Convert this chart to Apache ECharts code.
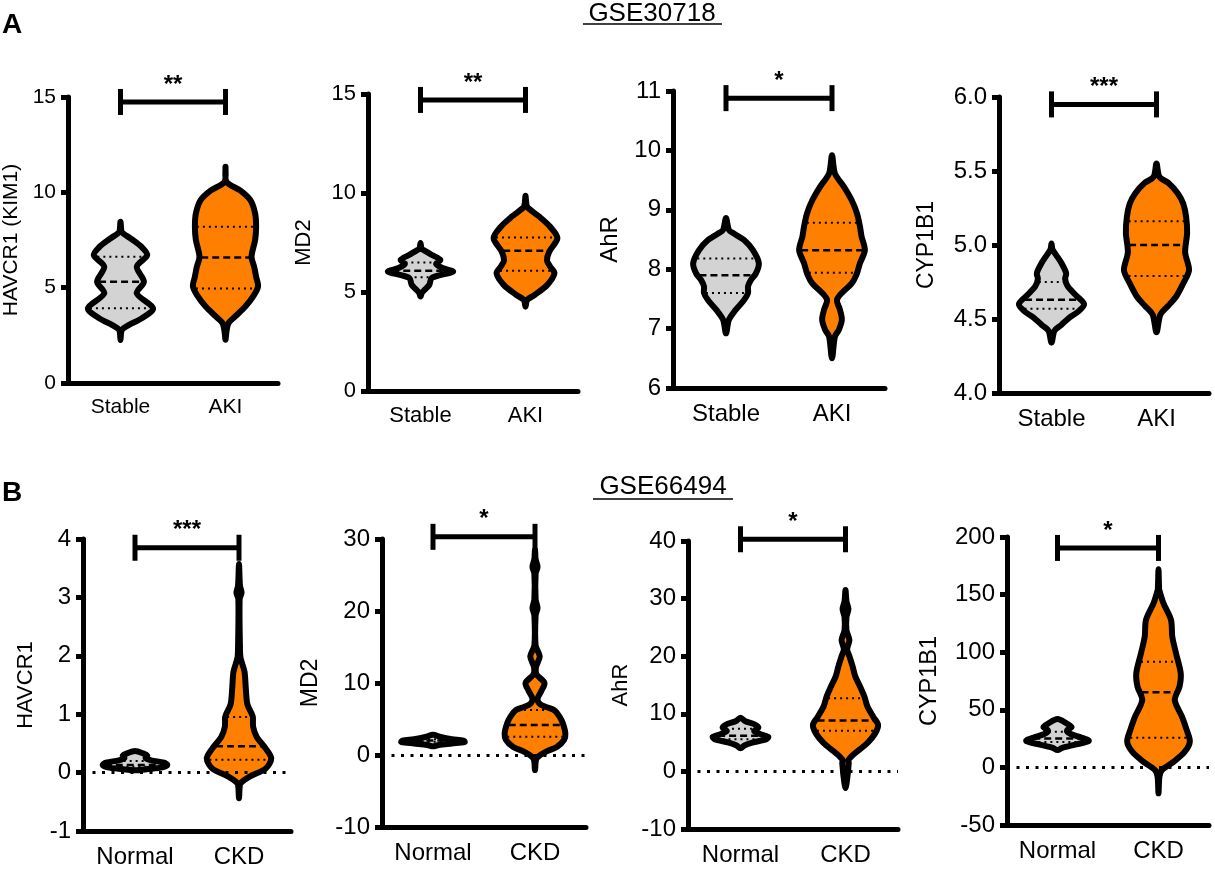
<!DOCTYPE html>
<html><head><meta charset="utf-8">
<script src="https://cdn.jsdelivr.net/npm/echarts@6/dist/echarts.min.js"></script>
<style>html,body{margin:0;padding:0;background:#fff}#c{width:1215px;height:869px}</style>
</head><body><div id="c"></div><script>
// ---------- DATA ----------
const groupA = ['Stable', 'AKI'];
const groupB = ['Normal', 'CKD'];
const datasetTitles = ['GSE30718', 'GSE66494'];
const panelLetters = ['A', 'B'];
const yNames = ['HAVCR1 (KIM1)', 'MD2', 'AhR', 'CYP1B1', 'HAVCR1', 'MD2', 'AhR', 'CYP1B1'];
const yMin = [0, 0, 6, 4, -1, -10, -10, -50];
const yMax = [15, 15, 11, 6, 4, 30, 40, 200];
const yStep = [5, 5, 1, 0.5, 1, 10, 10, 50];
const yDecimals = [0, 0, 0, 1, 0, 0, 0, 0];
const stars = ['**', '**', '*', '***', '***', '*', '*', '*'];
const bracketY = [14.74, 14.7, 10.88, 5.95, 3.85, 30.3, 40.3, 190.5];

// violin profiles: [value, relative density (half width, max = 1)]
const havcr1A_stable = [[8.46,0],[7.95,0.03],[7.85,0.08],[7.5,0.38],[7.15,0.64],[6.71,0.82],[6.1,0.5],[5.31,0.72],[4.7,0.5],[3.92,1.0],[3.39,0.65],[3.04,0.25],[2.78,0.04],[2.25,0]];
const havcr1A_aki = [[11.34,0],[10.55,0.03],[10.1,0.45],[9.6,0.76],[8.9,0.91],[8.2,0.94],[7.5,0.91],[6.63,0.8],[6.1,0.88],[5.58,0.94],[5.06,1],[4.54,0.85],[4.01,0.61],[3.49,0.3],[3.14,0.09],[2.7,0.03],[2.27,0]];
const md2A_stable = [[7.47,0],[7.2,0.03],[7.13,0.08],[6.88,0.34],[6.62,0.61],[6.42,0.48],[6.2,0.7],[6.03,1],[5.85,0.6],[5.7,0.34],[5.36,0.27],[5.1,0.12],[4.95,0.04],[4.77,0]];
const md2A_aki = [[9.86,0],[9.4,0.03],[9.24,0.08],[8.81,0.42],[8.31,0.75],[7.72,0.98],[7.04,0.73],[6.6,0.66],[6.3,0.75],[5.95,0.89],[5.36,0.67],[4.85,0.28],[4.6,0.05],[4.26,0]];
const ahrA_stable = [[8.86,0],[8.66,0.09],[8.6,0.24],[8.49,0.55],[8.32,0.82],[8.1,1],[7.93,0.91],[7.82,0.76],[7.71,0.67],[7.6,0.67],[7.48,0.55],[7.32,0.3],[7.15,0.09],[6.92,0]];
const ahrA_aki = [[9.92,0],[9.61,0.09],[9.39,0.36],[9.16,0.6],[8.94,0.76],[8.72,0.85],[8.55,0.9],[8.32,1],[8.1,0.85],[7.93,0.76],[7.76,0.6],[7.6,0.3],[7.48,0.15],[7.32,0.24],[7.15,0.3],[6.98,0.21],[6.87,0.09],[6.5,0]];
const cypA_stable = [[5.01,0],[4.97,0.03],[4.93,0.15],[4.88,0.3],[4.81,0.45],[4.77,0.42],[4.72,0.5],[4.66,0.75],[4.6,1],[4.55,0.82],[4.51,0.55],[4.46,0.3],[4.42,0.09],[4.34,0]];
const cypA_aki = [[5.55,0],[5.46,0.09],[5.42,0.36],[5.35,0.65],[5.28,0.82],[5.19,0.91],[5.08,0.94],[4.95,0.88],[4.83,1],[4.74,0.82],[4.65,0.6],[4.59,0.36],[4.53,0.12],[4.41,0]];
const havcr1B_normal = [[0.37,0],[0.33,0.25],[0.29,0.38],[0.25,0.33],[0.21,0.5],[0.17,0.9],[0.13,1],[0.09,0.85],[0.06,0.4],[0.04,0]];
const havcr1B_ckd = [[3.57,0],[3.2,0.03],[3.08,0.08],[2.97,0.02],[2.13,0.03],[1.96,0.05],[1.73,0.17],[1.45,0.21],[1.17,0.26],[1.0,0.4],[0.95,0.43],[0.78,0.44],[0.61,0.55],[0.41,0.83],[0.24,1],[0.07,0.83],[-0.07,0.33],[-0.18,0.05],[-0.25,0.02],[-0.44,0]];
const md2B_normal = [[2.8,0],[2.5,0.24],[2.2,0.6],[2.0,0.97],[1.8,1],[1.6,0.6],[1.4,0.18],[1.2,0]];
const md2B_ckd = [[28.5,0],[27.2,0.02],[26.1,0.08],[25.2,0.02],[21.6,0.02],[20.4,0.08],[19.4,0.02],[15.2,0.02],[13.7,0.15],[12.2,0.03],[11.2,0.05],[10.0,0.3],[8.9,0.2],[7.8,0.08],[7.1,0.15],[6.7,0.33],[6.25,0.6],[5.3,0.78],[4.4,0.88],[3.0,0.96],[2.1,0.92],[1.16,0.7],[0.46,0.35],[-0.23,0.1],[-0.7,0.03],[-2.1,0]];
const ahrB_normal = [[9.3,0],[8.7,0.15],[8.2,0.42],[7.6,0.55],[7.0,0.42],[6.5,0.6],[6.0,0.85],[5.6,0.8],[5.0,0.36],[4.5,0.12],[4.0,0]];
const ahrB_ckd = [[31.5,0],[29.5,0.03],[28.2,0.09],[26.8,0.03],[24.5,0.03],[22.8,0.12],[21.2,0.05],[20,0.12],[18.2,0.22],[16.5,0.3],[14.7,0.45],[13,0.58],[11.3,0.67],[9.5,0.85],[8.1,1],[6.6,0.91],[4.9,0.67],[3.2,0.3],[2.0,0.09],[1.45,0.1],[0.87,0.09],[-0.9,0.06],[-2.9,0]];
const cypB_normal = [[42,0],[38,0.3],[35,0.45],[32,0.3],[29,0.42],[26,0.76],[23,1],[20,0.6],[17,0.15],[15,0]];
const cypB_ckd = [[171.9,0],[155,0.02],[152.5,0.04],[142.4,0.16],[128,0.4],[113.5,0.44],[99,0.56],[81.7,0.71],[70,0.67],[58.5,0.52],[44,0.75],[32.5,0.9],[22.3,1],[13.6,0.84],[5,0.49],[-2.3,0.11],[-8,0.03],[-22.5,0]];

// quartiles: [Q1, median, Q3]
const havcr1A_stableQ = [3.92, 5.31, 6.62];
const havcr1A_akiQ = [4.95, 6.58, 8.2];
const md2A_stableQ = [5.75, 6.07, 6.49];
const md2A_akiQ = [6.07, 7.08, 7.75];
const ahrA_stableQ = [7.6, 7.9, 8.18];
const ahrA_akiQ = [7.94, 8.32, 8.78];
const cypA_stableQ = [4.57, 4.63, 4.75];
const cypA_akiQ = [4.79, 5.0, 5.16];
const havcr1B_normalQ = [0.1, 0.13, 0.2];
const havcr1B_ckdQ = [0.22, 0.45, 0.95];
const md2B_normalQ = [1.85, 2.0, 2.2];
const md2B_ckdQ = [2.55, 4.17, 6.25];
const ahrB_normalQ = [5.6, 6.2, 7.4];
const ahrB_ckdQ = [7.05, 8.85, 12.7];
const cypB_normalQ = [22, 25, 31];
const cypB_ckdQ = [25.8, 65.2, 91.8];

const violins = [
  [havcr1A_stable, havcr1A_aki], [md2A_stable, md2A_aki], [ahrA_stable, ahrA_aki], [cypA_stable, cypA_aki],
  [havcr1B_normal, havcr1B_ckd], [md2B_normal, md2B_ckd], [ahrB_normal, ahrB_ckd], [cypB_normal, cypB_ckd]
];
const quartiles = [
  [havcr1A_stableQ, havcr1A_akiQ], [md2A_stableQ, md2A_akiQ], [ahrA_stableQ, ahrA_akiQ], [cypA_stableQ, cypA_akiQ],
  [havcr1B_normalQ, havcr1B_ckdQ], [md2B_normalQ, md2B_ckdQ], [ahrB_normalQ, ahrB_ckdQ], [cypB_normalQ, cypB_ckdQ]
];

// ---------- STYLE / LAYOUT ----------
const FONT = 'Liberation Sans, Arial, sans-serif';
const FILLS = ['#d3d3d3', '#ff8000'];
const HALF = 0.31;            // max half width, fraction of category band
const OUTLINE = 6;
const AXISW = 5;
const gridRects = [
  [68, 97, 210, 286], [368, 94, 210, 297], [673, 91, 212, 297], [999, 97, 210, 296],
  [83, 539, 208, 296], [382, 539, 204, 288], [688, 541, 210, 288], [1007, 537, 202, 288]
];
const nameGaps = [46, 53, 51, 61, 46, 60, 56, 65];
const tickFont = [21, 22, 24, 24, 24, 24, 24, 24];
const nameFont = [21, 22, 24, 23, 22, 23, 22, 23.5];

function interpWidth(prof, v) {
  for (let k = 0; k < prof.length - 1; k++) {
    const a = prof[k], b = prof[k + 1];
    if (v <= a[0] && v >= b[0]) {
      const t = (a[0] - v) / (a[0] - b[0] || 1);
      return a[1] + (b[1] - a[1]) * t;
    }
  }
  return 0;
}

function violinRender(p) {
  return function (params, api) {
    const i = api.value(0);
    const prof = violins[p][i];
    const q = quartiles[p][i];
    const band = api.size([1, 0])[0];
    const hw = band * HALF;
    const cx = api.coord([i, 0])[0];
    const right = [], left = [];
    prof.forEach(function (pt) {
      const y = api.coord([i, pt[0]])[1];
      right.push([cx + pt[1] * hw, y]);
      left.push([cx - pt[1] * hw, y]);
    });
    const pts = right.slice();
    for (let k = left.length - 2; k >= 1; k--) pts.push(left[k]);
    const children = [{
      type: 'polygon', shape: { points: pts, smooth: 0.3 },
      style: { fill: FILLS[i], stroke: 'none' }
    }];
    q.forEach(function (v, k) {
      const w = interpWidth(prof, v) * hw - 2;
      if (w <= 0) return;
      const y = api.coord([i, v])[1];
      children.push({
        type: 'line', shape: { x1: cx - w, y1: y, x2: cx + w, y2: y },
        style: { stroke: '#000', lineWidth: k === 1 ? 2.5 : 2, lineDash: k === 1 ? [7, 4] : [2, 4] }
      });
    });
    children.push({
      type: 'polygon', shape: { points: pts, smooth: 0.3 },
      style: { fill: 'none', stroke: '#000', lineWidth: OUTLINE, lineJoin: 'round' }
    });
    return { type: 'group', children: children };
  };
}

function bracketRender(p) {
  return function (params, api) {
    const v = api.value(1);
    const a = api.coord([0, v]);
    const b = api.coord([1, v]);
    const y = a[1];
    const st = { stroke: '#000', lineWidth: AXISW };
    return {
      type: 'group', children: [
        { type: 'line', shape: { x1: a[0], y1: y, x2: b[0], y2: y }, style: st },
        { type: 'line', shape: { x1: a[0], y1: y - 13, x2: a[0], y2: y + 13 }, style: st },
        { type: 'line', shape: { x1: b[0], y1: y - 13, x2: b[0], y2: y + 13 }, style: st },
        { type: 'text', style: { text: stars[p], x: (a[0] + b[0]) / 2, y: y - 5, align: 'center', verticalAlign: 'bottom',
          fontSize: 24, fontWeight: 'bold', fontFamily: FONT, fill: '#000' } }
      ]
    };
  };
}

const grids = [], xAxes = [], yAxes = [], series = [];
for (let p = 0; p < 8; p++) {
  const r = gridRects[p];
  const fs = tickFont[p];
  const cats = p < 4 ? groupA : groupB;
  grids.push({ left: r[0], top: r[1], width: r[2], height: r[3], containLabel: false });
  xAxes.push({
    type: 'category', gridIndex: p, data: cats, boundaryGap: true,
    axisLine: { onZero: false, lineStyle: { color: '#000', width: AXISW } },
    axisTick: { alignWithLabel: true, length: 7, lineStyle: { color: '#000', width: AXISW } },
    axisLabel: { color: '#000', fontSize: fs, fontFamily: FONT, margin: 14 },
    splitLine: { show: false }
  });
  yAxes.push({
    type: 'value', gridIndex: p, min: yMin[p], max: yMax[p], interval: yStep[p],
    name: yNames[p], nameLocation: 'middle', nameGap: nameGaps[p],
    nameTextStyle: { color: '#000', fontSize: nameFont[p], fontFamily: FONT },
    axisLine: { show: true, onZero: false, lineStyle: { color: '#000', width: AXISW } },
    axisTick: { show: true, length: 7, lineStyle: { color: '#000', width: AXISW } },
    axisLabel: { color: '#000', fontSize: fs, fontFamily: FONT, margin: 12,
      formatter: (function (d) { return function (v) { return v.toFixed(d); }; })(yDecimals[p]) },
    splitLine: { show: false }
  });
  const vs = {
    type: 'custom', xAxisIndex: p, yAxisIndex: p, z: 3,
    renderItem: violinRender(p),
    encode: { x: 0, y: 1 },
    data: [[0, quartiles[p][0][1]], [1, quartiles[p][1][1]]],
    silent: true
  };
  if (p >= 4) {
    vs.markLine = {
      silent: true, symbol: 'none', label: { show: false }, animation: false,
      lineStyle: { color: '#000', width: 3, type: [3, 6.5] },
      data: [{ yAxis: 0 }]
    };
  }
  series.push(vs);
  series.push({
    type: 'custom', xAxisIndex: p, yAxisIndex: p, z: 4, clip: false,
    renderItem: bracketRender(p), encode: { x: 0, y: 1 },
    data: [[0, bracketY[p]]], silent: true
  });
}

const graphic = [
  { type: 'text', left: 2, top: 11, style: { text: panelLetters[0], fontSize: 28, fontWeight: 'bold', fontFamily: FONT, fill: '#000' } },
  { type: 'text', left: 2, top: 479, style: { text: panelLetters[1], fontSize: 28, fontWeight: 'bold', fontFamily: FONT, fill: '#000' } },
  { type: 'text', x: 652, y: 27, style: { text: datasetTitles[0], align: 'center', verticalAlign: 'bottom', fontSize: 26, fontFamily: FONT, fill: '#000' } },
  { type: 'line', shape: { x1: 583, y1: 24, x2: 722, y2: 24 }, style: { stroke: '#000', lineWidth: 1.5 } },
  { type: 'text', x: 663, y: 500, style: { text: datasetTitles[1], align: 'center', verticalAlign: 'bottom', fontSize: 26, fontFamily: FONT, fill: '#000' } },
  { type: 'line', shape: { x1: 593, y1: 499, x2: 733, y2: 499 }, style: { stroke: '#000', lineWidth: 1.5 } }
];

const chart = echarts.init(document.getElementById('c'), null, { renderer: 'canvas' });
chart.setOption({
  animation: false,
  backgroundColor: '#fff',
  grid: grids, xAxis: xAxes, yAxis: yAxes, series: series, graphic: graphic
});
</script></body></html>
